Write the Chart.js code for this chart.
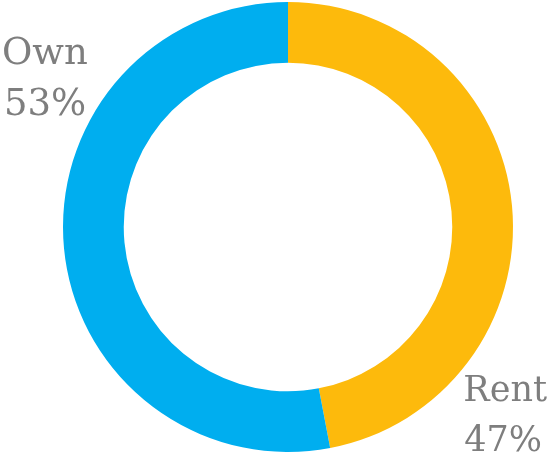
<!DOCTYPE html>
<html>
<head>
<meta charset="utf-8">
<script src="https://cdn.jsdelivr.net/npm/chart.js@4"></script>
<style>
  html, body { margin: 0; padding: 0; background: #fff; }
  #wrap { width: 550px; height: 458px; position: relative; }
</style>
</head>
<body>
<div id="wrap"><canvas id="tenure"></canvas></div>
<script>
const labels = ['Rent', 'Own'];
const shares = [47, 53];
const colors = ['#FDBA0C', '#00AEEF'];

// corner labels: Rent bottom-right, Own top-left
const cornerLabels = {
  id: 'cornerLabels',
  afterDraw(chart) {
    const c = chart.ctx;
    const w = chart.width;
    const h = chart.height;
    c.save();
    c.fillStyle = '#7e7e7e';
    c.textBaseline = 'alphabetic';

    // Own
    c.font = '37px "DejaVu Serif"';
    c.textAlign = 'left';
    c.fillText(labels[1], 2, 64);
    c.fillText(shares[1] + '%', 4, 115);

    // Rent
    c.font = '35px "DejaVu Serif"';
    c.textAlign = 'right';
    c.fillText(labels[0], w - 3, 401);
    c.fillText(shares[0] + '%', w - 8, h - 7);
    c.restore();
  }
};

const ctx = document.getElementById('tenure').getContext('2d');
const chart = new Chart(ctx, {
  type: 'doughnut',
  data: {
    labels: labels,
    datasets: [{
      data: shares,
      backgroundColor: colors,
      borderWidth: 0
    }]
  },
  options: {
    responsive: true,
    maintainAspectRatio: false,
    animation: false,
    cutout: '73%',
    layout: {
      padding: { left: 26, right: 0, top: 2, bottom: 6 }
    },
    plugins: {
      legend: { display: false },
      tooltip: { enabled: false }
    }
  },
  plugins: [cornerLabels]
});
</script>
</body>
</html>
